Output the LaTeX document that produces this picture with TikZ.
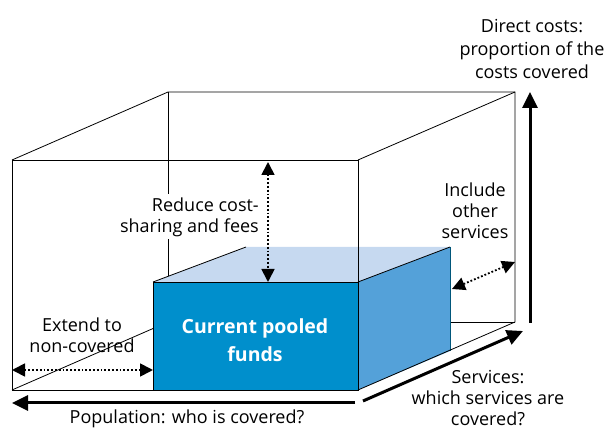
\documentclass[tikz,border=0pt]{standalone}
\usepackage{fontspec}
\setmainfont{Open Sans}
\usetikzlibrary{arrows.meta}
\definecolor{poolfront}{HTML}{008FCC}
\definecolor{pooltop}{HTML}{C6D9F0}
\definecolor{poolside}{HTML}{54A1D9}
\begin{document}
\begin{tikzpicture}[
  x=1pt, y=-1pt,
  edge/.style={draw, line width=0.8pt},
  axis/.style={line width=3pt, -{Triangle[length=16pt,width=15pt]}},
  change/.style={line width=1.8pt, dotted,
    {Triangle[length=13pt,width=13pt]}-{Triangle[length=13pt,width=13pt]}},
  label/.style={align=center, inner sep=1pt,
    font=\fontsize{18}{21}\selectfont}
]
\useasboundingbox (0,0) rectangle (606,430);

% corners of the outer box
\coordinate (ftl) at (12,160);
\coordinate (ftr) at (358,160);
\coordinate (fbl) at (12,390);
\coordinate (fbr) at (358,390);
\coordinate (btl) at (168,92);
\coordinate (btr) at (515,92);
\coordinate (bbl) at (168,322);
\coordinate (bbr) at (515,322);

% hidden edges
\draw[edge] (btl) -- (bbl) -- (bbr);
\draw[edge] (fbl) -- (bbl);

\node[label, fill=white, align=right, anchor=east, inner sep=3pt] (reduce)
  at (262,217) {Reduce cost-\\sharing and fees};

% current pooled funds
\coordinate (ptl) at (153,282);
\coordinate (ptr) at (358,282);
\coordinate (pbl) at (153,390);
\coordinate (pbr) at (358,390);
\coordinate (pkl) at (246,247);
\coordinate (pkr) at (450,247);
\coordinate (pkb) at (450,351);
\fill[pooltop] (ptl) -- (pkl) -- (pkr) -- (ptr) -- cycle;
\fill[poolside] (ptr) -- (pkr) -- (pkb) -- (pbr) -- cycle;
\draw[line width=0.6pt, poolfront!60!black] (pkr) -- (pkb);
\fill[poolfront] (ptl) rectangle (pbr);
\draw[edge] (pbl) rectangle (ptr);
\draw[edge] (ptl) -- (pkl);
\draw[edge] (ptr) -- (pkr);
\node[label, text=white, font=\bfseries\fontsize{19.5}{28}\selectfont] (pool)
  at (255,340) {Current pooled\\funds};

% visible edges
\draw[edge] (fbl) rectangle (ftr);
\draw[edge] (ftl) -- (btl) -- (btr) -- (bbr) -- (fbr);
\draw[edge] (ftr) -- (btr);

% dimensions
\coordinate (popstart) at (355,403);
\coordinate (popend) at (12,403);
\coordinate (servstart) at (363,401);
\coordinate (servend) at (523,331);
\coordinate (coststart) at (530,323);
\coordinate (costend) at (530,92);
\draw[axis] (popstart) -- (popend);
\draw[axis] (servstart) -- (servend);
\draw[axis] (coststart) -- (costend);

\coordinate (extleft) at (12,370);
\coordinate (extright) at (153,370);
\coordinate (redtop) at (268,162);
\coordinate (redbottom) at (268,282);
\coordinate (incin) at (452,289);
\coordinate (incout) at (515,262);
\draw[change] (extleft) -- (extright);
\draw[change] (redtop) -- (redbottom);
\draw[change] (incin) -- (incout);

\node[label] (extend) at (82,335) {Extend to\\non-covered};
\node[label] (include) at (475,211) {Include\\other\\services};
\node[label, font=\fontsize{18}{23}\selectfont] (direct) at (532,49)
  {Direct costs:\\proportion of the\\costs covered};
\node[label] (population) at (187,419) {Population: who is covered?};
\node[label] (services) at (488,398) {Services:\\which services are\\covered?};
\end{tikzpicture}
\end{document}
